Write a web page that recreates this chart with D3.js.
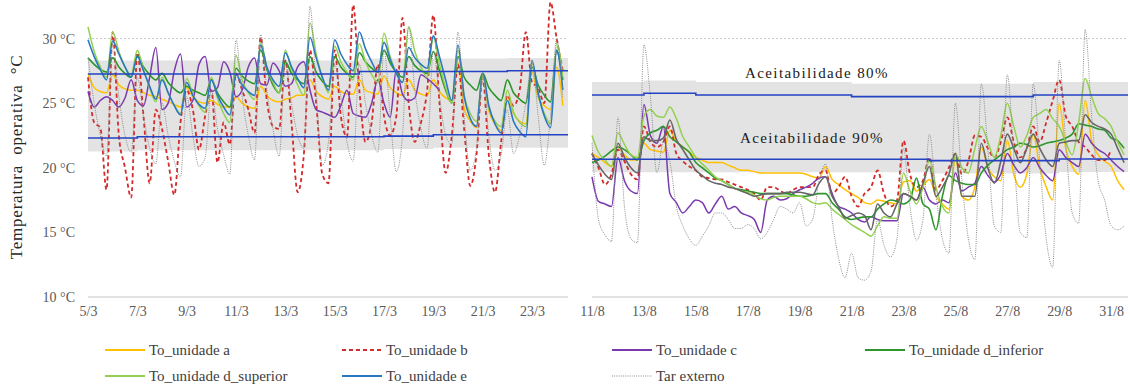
<!DOCTYPE html>
<html>
<head>
<meta charset="utf-8">
<script src="https://cdn.jsdelivr.net/npm/d3@7"></script>
<style>
  body { margin: 0; background: #fff; }
  text { font-family: "Liberation Serif", "Times New Roman", serif; }
</style>
</head>
<body>
<svg id="chart" width="1130" height="388"></svg>
<script>
// ---- data: 6-hourly samples (00h, 06h, 12h, 18h) ----
const seriesNames = ['To_unidade a', 'To_unidade b', 'To_unidade c', 'To_unidade d_inferior',
  'To_unidade d_superior', 'To_unidade e', 'Tar externo'];
const yTicks = [10, 15, 20, 25, 30];

// left panel: from 5/3
const leftA = [27.3,26.2,25.9,25.8, 27.2,26.4,26.1,26.0, 26.0,25.8,25.6,25.5, 25.3,25.1,24.9,24.7,
  26.2,25.5,25.1,25.0, 25.2,24.9,24.7,24.7, 25.5,25.0,24.7,24.6, 26.3,25.6,25.2,25.1,
  25.3,25.4,25.6,25.6, 26.8,25.9,25.5,25.3, 26.3,25.9,25.7,25.7, 26.8,26.0,25.8,25.7,
  27.1,26.2,25.8,25.6, 26.8,26.0,25.7,25.6, 26.8,25.9,25.4,25.2, 28.1,24.6,23.6,23.1,
  27.2,24.4,23.4,22.9, 25.5,24.2,23.6,23.4, 27.4,25.4,24.8,24.5, 27.8,24.8];
const leftB = [27.0,23.5,23.1,18.3, 30.5,22.5,20.0,17.7, 28.9,24.0,18.8,24.5, 23.0,20.5,17.9,23.5,
  26.0,24.5,21.4,24.0, 26.0,20.4,23.5,21.8, 27.3,26.0,24.5,22.7, 30.1,25.2,23.2,23.0,
  28.3,23.5,18.1,21.0, 29.1,25.0,19.5,18.8, 29.1,24.0,22.4,32.6, 26.0,22.0,23.5,28.0,
  24.0,22.5,24.0,31.6, 25.0,22.0,23.5,26.0, 31.8,25.0,19.6,22.5, 28.0,23.0,18.6,21.0,
  27.0,21.0,18.1,22.0, 25.6,24.8,26.0,30.5, 26.6,26.2,25.0,32.8, 30.0,27.5];
const leftC = [25.9,24.7,25.2,25.5, 25.2,24.7,25.4,26.8, 25.2,24.8,27.0,29.3, 24.5,25.0,27.5,28.8,
  24.7,25.2,28.0,28.6, 25.9,26.2,28.2,27.4, 25.5,26.0,27.8,28.5, 26.5,26.4,28.1,27.5,
  26.3,26.5,27.8,28.2, 26.0,24.5,24.3,24.1, 23.9,24.8,26.0,24.2, 24.0,23.9,25.0,26.8,
  25.0,23.9,27.6,25.7, 25.2,25.4,27.2,26.9, 26.5,26.0];
const leftDi = [28.5,28.0,27.6,27.4, 28.5,27.8,27.3,27.0, 28.7,27.8,27.2,26.8, 27.3,26.6,26.1,25.8,
  26.3,26.0,25.8,25.6, 26.8,25.8,25.1,24.7, 27.7,27.1,26.7,26.5, 29.1,27.6,26.4,25.8,
  28.2,27.3,26.8,26.5, 28.6,27.4,26.7,26.3, 28.6,27.8,27.3,27.0, 28.9,28.2,27.7,27.4,
  29.1,28.1,27.4,27.0, 28.6,27.9,27.5,27.3, 29.0,27.5,26.0,25.0, 28.6,27.0,26.4,26.0,
  27.3,26.2,25.6,25.2, 26.8,25.8,25.3,25.0, 27.8,26.4,25.6,25.1, 29.0,26.8];
const leftDs = [30.9,29.0,27.8,27.0, 30.5,29.0,27.8,27.2, 29.1,27.6,26.2,25.1, 27.0,25.8,24.8,24.2,
  26.9,25.7,24.8,24.3, 27.0,25.4,24.2,23.5, 28.7,26.8,25.8,25.3, 29.7,27.8,26.6,25.8,
  29.1,27.6,26.4,25.6, 31.2,28.8,27.0,25.8, 29.4,28.2,27.4,26.8, 29.6,28.2,27.2,26.6,
  30.4,28.6,27.3,26.6, 30.9,29.0,27.8,27.0, 30.1,28.0,26.2,25.0, 29.1,25.6,24.2,23.6,
  27.0,24.6,23.6,23.2, 26.0,24.3,23.5,23.2, 28.1,25.6,24.2,23.4, 29.6,27.0];
const leftE = [29.9,28.6,27.6,26.8, 29.8,28.8,27.8,27.0, 28.6,27.5,26.3,25.3, 26.8,25.8,24.8,24.1,
  26.6,25.6,24.9,24.6, 26.8,25.6,24.7,24.1, 27.2,26.4,25.9,25.6, 29.5,27.8,26.8,26.3,
  28.9,27.8,26.9,26.2, 30.1,28.5,27.0,26.0, 29.9,28.8,28.0,27.5, 30.5,29.2,28.2,27.4,
  29.7,28.4,27.3,26.6, 29.3,28.5,28.0,27.7, 30.2,28.6,26.8,25.2, 29.5,25.5,23.8,23.2,
  27.3,24.8,23.4,22.7, 25.2,23.6,22.8,22.4, 28.3,25.8,24.0,23.1, 29.1,26.0];
const leftTar = [28.5,25.0,22.5,20.9, 29.5,25.5,22.5,21.2, 27.0,24.0,21.5,20.3, 25.0,22.5,20.5,19.3,
  25.5,22.5,20.1,20.8, 26.0,23.0,21.0,19.5, 29.9,25.5,22.5,20.6, 30.3,26.0,23.0,20.9,
  28.0,25.0,22.5,21.5, 32.5,26.0,20.2,22.0, 28.0,25.5,22.0,20.5, 28.0,25.0,22.5,21.2,
  29.1,24.0,19.7,22.5, 30.9,26.0,23.0,21.5, 29.0,25.5,22.5,21.8, 30.5,24.0,19.8,21.5,
  27.3,22.5,19.8,21.0, 24.5,21.1,22.5,25.0, 28.3,24.0,20.2,24.0, 30.0,25.5];
// daily comfort limits (left)
const leftUp90 = [27.25,27.25,27.25,27.25,27.25,27.25,27.25,27.25,27.25,27.25,27.25,
  27.45,27.45,27.45,27.45,27.45,27.45,27.5,27.5,27.5];
const leftLow90 = [22.3,22.3,22.4,22.4,22.4,22.4,22.4,22.4,22.4,22.4,22.4,22.4,
  22.45,22.45,22.55,22.55,22.55,22.55,22.55,22.55];
const leftUp80 = [28.3,28.3,28.3,28.3,28.3,28.3,28.3,28.3,28.3,28.3,28.3,
  28.45,28.45,28.45,28.45,28.45,28.45,28.5,28.5,28.5];
const leftLow80 = [21.25,21.25,21.35,21.35,21.35,21.35,21.35,21.35,21.35,21.35,21.35,21.35,
  21.45,21.45,21.55,21.55,21.55,21.55,21.55,21.55];

// right panel: from 11/8
const rightA = [21.1,20.8,20.4,20.1, 21.6,21.0,20.6,20.6, 21.9,21.4,21.3,21.2, 22.9,22.0,21.6,21.2,
  20.8,20.6,20.4,20.4, 20.4,20.2,20.0,19.8, 19.8,19.7,19.6,19.6, 19.6,19.6,19.6,19.6,
  19.6,19.5,19.3,19.2, 20.1,19.1,18.7,18.3, 18.0,17.7,17.3,17.2, 17.5,17.4,17.3,17.2,
  18.9,19.0,18.2,18.6, 19.1,17.8,17.2,16.8, 20.8,17.8,17.5,18.5, 21.6,20.0,19.3,19.0,
  22.1,19.5,18.5,19.5, 22.6,20.0,18.5,17.5, 25.0,21.5,20.1,19.5, 25.2,22.1,21.0,20.5,
  20.1,19.0,18.3];
const rightB = [21.1,20.0,18.7,19.5, 21.4,20.5,19.5,19.1, 23.2,22.0,21.6,22.0, 23.2,21.1,20.5,20.1,
  19.8,19.3,19.2,19.1, 19.1,18.9,18.7,18.5, 18.3,18.0,17.5,18.5, 18.5,18.2,18.0,18.3,
  18.5,18.5,18.5,19.5, 19.8,18.0,18.5,19.3, 17.8,17.0,18.0,18.5, 19.8,18.0,17.0,17.5,
  22.1,19.5,18.5,19.0, 20.8,18.3,19.0,20.0, 21.1,19.5,20.5,22.5, 22.4,21.5,20.8,22.0,
  23.9,22.0,20.8,21.5, 23.2,22.0,23.5,25.2, 26.8,24.0,23.2,22.0, 21.6,21.0,20.6,20.6,
  21.4];
const rightC = [19.3,17.4,17.2,17.0, 20.8,19.0,18.2,18.0, 24.9,22.5,21.9,23.2, 18.0,17.3,16.5,17.0,
  17.5,17.3,16.5,17.2, 17.8,16.8,17.0,16.5, 16.3,16.0,15.0,17.5, 17.8,17.5,17.6,18.0,
  18.3,18.5,18.8,19.2, 19.3,18.0,17.0,16.8, 16.5,16.0,15.8,16.2, 16.0,15.9,15.9,15.9,
  18.0,17.8,17.5,18.5, 17.5,17.2,17.5,17.3, 19.6,18.2,18.5,18.8, 20.1,19.4,18.9,19.5,
  21.1,20.2,19.6,20.0, 20.8,20.0,19.4,19.0, 21.4,20.8,20.4,20.1, 22.6,21.9,21.4,21.1,
  20.6,20.1,19.7];
const rightDi = [20.4,20.6,20.9,21.3, 21.6,21.4,21.0,20.6, 22.1,22.7,22.9,23.2, 22.4,22.0,21.6,21.2,
  20.4,20.0,19.6,19.2, 19.0,18.7,18.4,18.3, 18.2,18.1,18.0,18.0, 18.0,18.0,18.0,17.9,
  17.8,17.8,17.9,18.0, 18.0,17.3,16.8,16.2, 16.0,16.1,16.2,16.2, 16.8,17.2,17.5,17.4,
  17.2,17.5,19.2,17.2, 16.8,15.2,17.8,19.4, 19.0,18.8,18.7,18.7, 19.6,20.2,20.6,21.0,
  21.4,21.6,21.9,21.8, 21.6,21.7,21.9,22.0, 22.1,22.3,22.6,23.4, 23.3,23.2,23.0,22.9,
  22.3,22.1,21.5];
const rightDs = [22.5,21.2,20.6,20.1, 22.7,21.8,21.0,20.8, 24.0,24.5,24.0,23.9, 24.7,23.8,22.4,21.6,
  20.8,20.3,19.8,19.3, 19.0,18.7,18.4,18.2, 18.1,17.9,17.6,17.5, 17.7,17.8,17.8,17.8,
  17.8,17.6,17.3,17.2, 17.3,16.8,16.4,16.0, 15.6,15.3,15.0,14.7, 15.5,16.2,16.1,16.1,
  19.6,18.2,17.2,18.5, 20.6,18.5,17.0,16.5, 21.1,20.0,19.6,21.5, 23.2,22.0,20.8,22.5,
  25.0,23.2,21.6,22.5, 23.9,24.2,24.5,23.8, 23.2,22.0,21.0,23.5, 26.9,25.5,24.2,23.8,
  23.2,22.0,21.0];
const rightE = [21.1,20.2,19.5,19.1, 21.9,20.8,20.0,19.6, 22.4,22.1,22.1,22.3, 23.7,22.2,21.4,20.6,
  19.8,19.4,19.0,18.8, 18.7,18.5,18.4,18.2, 18.0,17.8,17.9,18.0, 18.0,18.0,18.1,18.1,
  18.1,18.0,17.9,18.8, 19.3,17.8,17.0,16.1, 16.3,16.5,16.3,15.2, 17.2,16.5,16.2,17.2,
  18.0,17.8,17.5,18.8, 20.1,17.8,18.5,19.5, 21.1,17.8,17.8,17.8, 21.9,20.0,18.8,20.5,
  22.6,21.5,20.4,21.5, 22.6,21.5,20.6,20.1, 21.9,22.0,22.1,22.1, 24.1,23.5,23.2,23.0,
  22.6,21.5,20.4];
const rightTar = [21.9,16.0,14.8,14.3, 23.9,17.0,14.5,14.2, 29.5,25.5,19.6,22.0, 20.5,17.0,15.5,14.5,
  14.0,14.7,15.5,16.5, 16.5,16.0,15.3,15.3, 15.6,15.3,14.5,15.0, 16.0,17.0,16.8,16.5,
  17.3,15.5,16.0,19.0, 20.3,16.0,13.0,11.5, 13.4,11.5,11.3,12.0, 16.0,14.0,13.1,14.5,
  21.5,17.0,14.4,16.0, 22.6,18.0,14.5,13.4, 25.0,19.0,14.5,12.9, 26.5,21.5,15.5,15.0,
  27.2,21.0,15.0,14.6, 26.5,20.5,14.5,12.3, 28.3,22.0,16.5,15.7, 30.7,24.0,19.0,17.5,
  15.5,15.2,15.5];
// daily comfort limits (right)
const rightUp90 = [25.63,25.63,25.76,25.76,25.63,25.63,25.63,25.63,25.63,25.63,
  25.5,25.5,25.5,25.5,25.5,25.5,25.5,25.63,25.63,25.63,25.63];
const rightLow90 = [20.66,20.66,20.66,20.66,20.66,20.66,20.66,20.66,20.66,20.66,20.66,20.66,20.66,
  20.55,20.55,20.55,20.55,20.55,20.68,20.68,20.68];
const rightUp80 = [26.63,26.63,26.76,26.76,26.63,26.63,26.63,26.63,26.63,26.63,
  26.5,26.5,26.5,26.5,26.5,26.5,26.5,26.63,26.63,26.63,26.63];
const rightLow80 = [19.66,19.66,19.66,19.66,19.66,19.66,19.66,19.66,19.66,19.66,19.66,19.66,19.66,
  19.55,19.55,19.55,19.55,19.55,19.68,19.68,19.68];

const styles = [
  { color: '#ffc000', width: 1.5, dash: null },
  { color: '#d42a2a', width: 1.8, dash: '4,3' },
  { color: '#7a3aae', width: 1.5, dash: null },
  { color: '#2c962c', width: 1.6, dash: null },
  { color: '#92d050', width: 1.5, dash: null },
  { color: '#2b78c2', width: 1.6, dash: null },
  { color: '#8c8c8c', width: 1, dash: '1,1.2' }
];
const limitColor = '#2343c4';

const svg = d3.select('#chart');
svg.append('rect').attr('width', 1130).attr('height', 388).attr('fill', '#fff');

const y = d3.scaleLinear().domain([10, 30]).range([297, 38.5]);
const HOUR = 3600 * 1000, DAY = 24 * HOUR;

function drawPanel(p) {
  const t0 = p.start;
  const x = d3.scaleUtc().domain([t0, new Date(+t0 + p.spanDays * DAY)]).range([p.x0, p.x1]);
  const g = svg.append('g');

  // comfort band (80%)
  const days = p.up80.map((_, i) => new Date(+t0 + i * DAY));
  days.push(x.domain()[1]);
  const bandData = days.map((d, i) => ({ d, lo: p.low80[Math.min(i, p.low80.length - 1)], hi: p.up80[Math.min(i, p.up80.length - 1)] }));
  g.append('path').datum(bandData)
    .attr('fill', '#e3e3e3')
    .attr('d', d3.area().curve(d3.curveStepAfter).x(d => x(d.d)).y0(d => y(d.lo)).y1(d => y(d.hi)));

  // 30 °C gridline
  g.append('line').attr('x1', p.x0).attr('x2', p.x1).attr('y1', y(30)).attr('y2', y(30))
    .attr('stroke', '#c8c8c8').attr('stroke-dasharray', '2,2');

  // axis
  g.append('line').attr('x1', p.x0).attr('x2', p.x1).attr('y1', y(10)).attr('y2', y(10))
    .attr('stroke', '#d9d9d9').attr('stroke-width', 1.5);
  const ax = g.append('g').attr('transform', `translate(0, ${y(10)})`)
    .call(d3.axisBottom(x).ticks(d3.utcDay.every(2)).tickSize(0)
      .tickFormat(d => `${d.getUTCDate()}/${d.getUTCMonth() + 1}`));
  ax.select('.domain').remove();
  ax.selectAll('text').attr('dy', '1.15em').attr('font-size', '14px').attr('fill', '#595959')
    .attr('font-family', '"Liberation Serif", serif');

  // series
  p.series.forEach((vals, k) => {
    const st = p.styles[k];
    const line = d3.line().curve(d3.curveMonotoneX)
      .x((_, i) => x(new Date(+t0 + i * 6 * HOUR))).y(d => y(d));
    g.append('path').datum(vals)
      .attr('fill', 'none').attr('stroke', st.color).attr('stroke-width', st.width)
      .attr('stroke-dasharray', st.dash).attr('stroke-linejoin', 'round')
      .attr('d', line);
  });

  // comfort limits (90%)
  [p.up90, p.low90].forEach(arr => {
    const pts = arr.map((v, i) => ({ d: new Date(+t0 + i * DAY), v }));
    pts.push({ d: x.domain()[1], v: arr[arr.length - 1] });
    g.append('path').datum(pts)
      .attr('fill', 'none').attr('stroke', limitColor).attr('stroke-width', 1.6)
      .attr('d', d3.line().curve(d3.curveStepAfter).x(d => x(d.d)).y(d => y(d.v)));
  });
  return g;
}

drawPanel({
  start: new Date(Date.UTC(2019, 2, 5)), spanDays: 19.46, x0: 88, x1: 568,
  series: [leftA, leftB, leftC, leftDi, leftDs, leftE, leftTar], styles,
  up90: leftUp90, low90: leftLow90, up80: leftUp80, low80: leftLow80
});

// right panel: unit e drawn in dark gray in the original
const rightStyles = styles.slice();
rightStyles[5] = { color: '#666666', width: 1.6, dash: null };
const right = drawPanel({
  start: new Date(Date.UTC(2019, 7, 11)), spanDays: 20.65, x0: 592, x1: 1128,
  series: [rightA, rightB, rightC, rightDi, rightDs, rightE, rightTar], styles: rightStyles,
  up90: rightUp90, low90: rightLow90, up80: rightUp80, low80: rightLow80
});
right.append('text').attr('x', 745).attr('y', 78).attr('font-size', '15px').attr('letter-spacing', '1.4px')
  .attr('fill', '#1a1a1a').text('Aceitabilidade 80%');
right.append('text').attr('x', 740).attr('y', 143).attr('font-size', '15px').attr('letter-spacing', '1.4px')
  .attr('fill', '#1a1a1a').text('Aceitabilidade 90%');

// y axis labels
svg.append('g').selectAll('text').data(yTicks).join('text')
  .attr('x', 75).attr('y', d => y(d) + 5).attr('text-anchor', 'end')
  .attr('font-size', '14px').attr('fill', '#595959')
  .text(d => `${d} °C`);
svg.append('text')
  .attr('transform', 'translate(22, 157) rotate(-90)')
  .attr('text-anchor', 'middle').attr('font-size', '17px').attr('fill', '#262626')
  .attr('letter-spacing', '0.8px').attr('word-spacing', '5px')
  .text('Temperatura operativa °C');

// legend
const legendPos = [[105, 350], [342, 350], [612, 350], [865, 350], [105, 376], [342, 376], [612, 376]];
const legend = svg.append('g').selectAll('g').data(seriesNames).join('g')
  .attr('transform', (_, i) => `translate(${legendPos[i][0]}, ${legendPos[i][1]})`);
legend.append('line').attr('x1', 0).attr('x2', 40).attr('y1', 0).attr('y2', 0)
  .attr('stroke', (_, i) => styles[i].color).attr('stroke-width', (_, i) => i === 6 ? 1 : 2)
  .attr('stroke-dasharray', (_, i) => styles[i].dash);
legend.append('text').attr('x', 44).attr('y', 5).attr('font-size', '15px').attr('fill', '#404040')
  .text(d => d);
</script>
</body>
</html>
